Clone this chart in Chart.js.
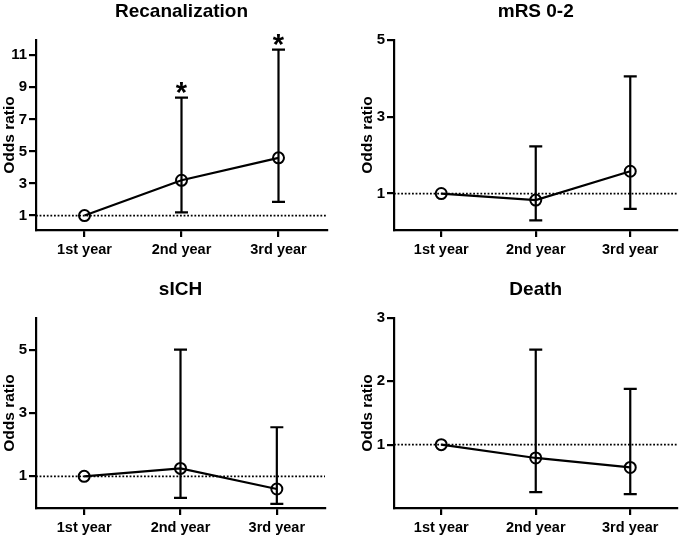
<!DOCTYPE html>
<html lang="en">
<head>
<title>Odds ratio by year</title>
<script src="https://cdn.jsdelivr.net/npm/chart.js"></script>
<style>
  body { margin: 0; background: #fff; }
  #wrap { position: relative; width: 685px; height: 537px; }
  .panel { position: absolute; }
</style>
</head>
<body>
<div id="wrap">
  <div class="panel" style="left:0;top:0;width:340px;height:259px"><canvas id="c1"></canvas></div>
  <div class="panel" style="left:358px;top:0;width:327px;height:259px"><canvas id="c2"></canvas></div>
  <div class="panel" style="left:0;top:278px;width:340px;height:259px"><canvas id="c3"></canvas></div>
  <div class="panel" style="left:358px;top:278px;width:327px;height:259px"><canvas id="c4"></canvas></div>
</div>
<script>
const years = ['1st year', '2nd year', '3rd year'];

// Recanalization
const recanOR = [1, 3.2, 4.6];
const recanLow = [null, 1.2, 1.85];
const recanHigh = [null, 8.35, 11.35];
const recanSig = [false, true, true];
const recanTicks = [1, 3, 5, 7, 9, 11];

// mRS 0-2
const mrsOR = [1, 0.83, 1.58];
const mrsLow = [null, 0.3, 0.6];
const mrsHigh = [null, 2.23, 4.05];
const mrsTicks = [1, 3, 5];

// sICH
const sichOR = [1, 1.25, 0.6];
const sichLow = [null, 0.32, 0.13];
const sichHigh = [null, 5.0, 2.55];
const sichTicks = [1, 3, 5];

// Death
const deathOR = [1, 0.79, 0.64];
const deathLow = [null, 0.25, 0.22];
const deathHigh = [null, 2.5, 1.88];
const deathTicks = [1, 2, 3];

Chart.defaults.font.family = "'Liberation Sans', Arial, sans-serif";
Chart.defaults.color = '#000';

// dotted line at OR = 1, CI whiskers and significance stars
function errorBars(low, high, sig) {
    return {
        id: 'errorBars',
        beforeDatasetsDraw(chart) {
            const { ctx, chartArea, scales: { y } } = chart;
            const y1 = y.getPixelForValue(1);
            ctx.save();
            ctx.strokeStyle = '#000';
            ctx.lineWidth = 1.8;
            ctx.setLineDash([1.8, 1.8]);
            ctx.beginPath();
            ctx.moveTo(chartArea.left, y1);
            ctx.lineTo(chartArea.right, y1);
            ctx.stroke();
            ctx.restore();
        },
        afterDatasetsDraw(chart) {
            const { ctx, scales: { x, y } } = chart;
            ctx.save();
            ctx.strokeStyle = '#000';
            ctx.fillStyle = '#000';
            ctx.lineWidth = 2.2;
            low.forEach((lo, i) => {
                if (lo == null) return;
                const px = x.getPixelForValue(i);
                const pLo = y.getPixelForValue(lo);
                const pHi = y.getPixelForValue(high[i]);
                ctx.beginPath();
                ctx.moveTo(px, pLo); ctx.lineTo(px, pHi);
                ctx.moveTo(px - 6.5, pLo); ctx.lineTo(px + 6.5, pLo);
                ctx.moveTo(px - 6.5, pHi); ctx.lineTo(px + 6.5, pHi);
                ctx.stroke();
                if (sig && sig[i]) {
                    ctx.font = "bold 29px 'Liberation Sans', Arial, sans-serif";
                    ctx.textAlign = 'center';
                    ctx.textBaseline = 'alphabetic';
                    const m = ctx.measureText('*');
                    const mid = (m.actualBoundingBoxDescent - m.actualBoundingBoxAscent) / 2;
                    ctx.fillText('*', px, pHi - 10 - mid);
                }
            });
            ctx.restore();
        }
    };
}

function makeChart(id, title, or, low, high, sig, yMin, yMax, yTicks, rightPad) {
    new Chart(document.getElementById(id), {
        type: 'line',
        data: {
            labels: years,
            datasets: [{
                data: or,
                borderColor: '#000',
                borderWidth: 2.2,
                tension: 0,
                pointRadius: 5.5,
                pointBorderWidth: 2,
                pointBorderColor: '#000',
                pointBackgroundColor: 'rgba(0,0,0,0)'
            }]
        },
        options: {
            responsive: true,
            maintainAspectRatio: false,
            animation: false,
            layout: { padding: { left: 0, right: rightPad, top: 0, bottom: 0 } },
            plugins: {
                legend: { display: false },
                tooltip: { enabled: false },
                title: {
                    display: true,
                    text: title,
                    fullSize: false,
                    color: '#000',
                    font: { size: 19, weight: 'bold', lineHeight: 1.2 },
                    padding: { top: 0, bottom: 17.2 }
                }
            },
            scales: {
                x: {
                    offset: true,
                    grid: { offset: false, drawOnChartArea: false, color: '#000', lineWidth: 2.2, tickLength: 7 },
                    border: { color: '#000', width: 2.2 },
                    ticks: { font: { size: 14.5, weight: 'bold' }, color: '#000', padding: 4, maxRotation: 0 },
                    afterFit: s => { s.height = 29; }
                },
                y: {
                    min: yMin,
                    max: yMax,
                    grid: { drawOnChartArea: false, color: '#000', lineWidth: 2.2, tickLength: 7 },
                    border: { color: '#000', width: 2.2 },
                    ticks: { font: { size: 15, weight: 'bold' }, color: '#000', padding: 2 },
                    title: { display: true, text: 'Odds ratio', color: '#000', font: { size: 15.5, weight: 'bold' }, padding: 0 },
                    afterBuildTicks: s => { s.ticks = yTicks.map(v => ({ value: v })); },
                    afterFit: s => { s.width = 36; }
                }
            }
        },
        plugins: [errorBars(low, high, sig)]
    });
}

makeChart('c1', 'Recanalization', recanOR, recanLow, recanHigh, recanSig, 0.1, 11.95, recanTicks, 13);
makeChart('c2', 'mRS 0-2', mrsOR, mrsLow, mrsHigh, null, 0.05, 5, mrsTicks, 2);
makeChart('c3', 'sICH', sichOR, sichLow, sichHigh, null, 0, 6, sichTicks, 15);
makeChart('c4', 'Death', deathOR, deathLow, deathHigh, null, 0, 3, deathTicks, 2);
</script>
</body>
</html>
